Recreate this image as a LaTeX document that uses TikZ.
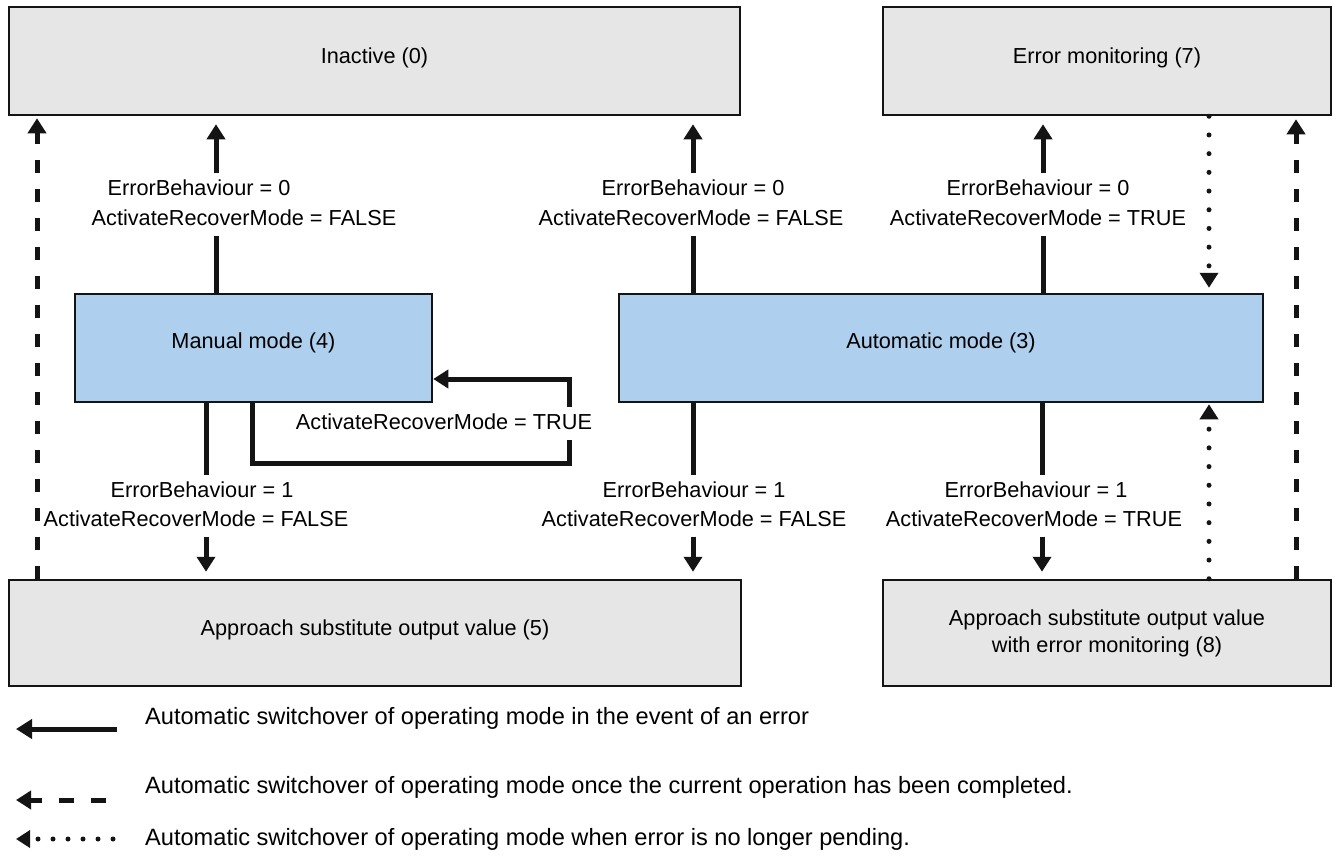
\documentclass[tikz,border=0pt]{standalone}
\usepackage{fontspec}
\setmainfont{Liberation Sans}
\usetikzlibrary{arrows.meta}
\definecolor{boxgray}{HTML}{E6E6E6}
\definecolor{boxblue}{HTML}{AECFED}
\definecolor{ink}{HTML}{141414}
\newcommand{\fsz}{\fontsize{21.7}{27}\selectfont}
\newcommand{\fleg}{\fontsize{23.6}{28}\selectfont}
\tikzset{
  gbox/.style={draw=ink, line width=2.5pt, fill=boxgray, font=\fsz, text height=16pt, text depth=12pt, inner sep=0pt},
  bbox/.style={gbox, fill=boxblue},
  lbl/.style={font=\fsz, inner xsep=2pt, inner ysep=5.5pt, text height=16pt, text depth=5pt, anchor=base},
  err/.style={draw=ink, line width=5pt},
  tipA/.style={-{Triangle[width=18pt,length=15pt]}},
  dsh/.style={draw=ink, line width=5pt, dash pattern=on 13pt off 16pt},
  dot/.style={draw=ink, line width=5pt, line cap=round, dash pattern=on 0pt off 18.7pt},
  legtext/.style={font=\fleg, anchor=base west, inner sep=0pt},
}
\begin{document}
\begin{tikzpicture}[x=1pt,y=-1pt]
\useasboundingbox[fill=white] (0,0) rectangle (1333,855);

% boxes
\node[gbox, minimum width=731pt, minimum height=108pt] (inactive) at (374.5,61) {Inactive (0)};
\node[gbox, minimum width=448pt, minimum height=108pt] (errmon) at (1107,61) {Error monitoring (7)};
\node[bbox, minimum width=357pt, minimum height=108pt, text depth=16pt] (manual) at (253.5,348) {Manual mode (4)};
\node[bbox, minimum width=644pt, minimum height=108pt, text depth=16pt] (auto) at (941,348) {Automatic mode (3)};
\node[gbox, minimum width=732pt, minimum height=106pt] (app5) at (375,633) {Approach substitute output value (5)};
\node[gbox, minimum width=448pt, minimum height=106pt, text height=, text depth=, align=center] (app8) at (1107,633) {Approach substitute output value\\with error monitoring (8)};

% arrow x positions
\coordinate (xA) at (216,0);
\coordinate (xB) at (693,0);
\coordinate (xC) at (1043,0);
\coordinate (xD) at (206,0);
\coordinate (xE) at (693,0);
\coordinate (xF) at (1042,0);
\coordinate (xDash1) at (37,0);
\coordinate (xDash2) at (1296,0);
\coordinate (xDot) at (1209,0);

% labels
\node[lbl] (mt1) at (199,195) {ErrorBehaviour = 0};
\node[lbl] (mt2) at (244,225) {ActivateRecoverMode = FALSE};
\node[lbl] (at1) at (693,195) {ErrorBehaviour = 0};
\node[lbl] (at2) at (691,225) {ActivateRecoverMode = FALSE};
\node[lbl] (et1) at (1038,195) {ErrorBehaviour = 0};
\node[lbl] (et2) at (1038,225) {ActivateRecoverMode = TRUE};
\node[lbl] (mb1) at (202,497) {ErrorBehaviour = 1};
\node[lbl] (mb2) at (196,526) {ActivateRecoverMode = FALSE};
\node[lbl] (ab1) at (694,497) {ErrorBehaviour = 1};
\node[lbl] (ab2) at (694,526) {ActivateRecoverMode = FALSE};
\node[lbl] (eb1) at (1036,497) {ErrorBehaviour = 1};
\node[lbl] (eb2) at (1034,526) {ActivateRecoverMode = TRUE};
\node[lbl] (loop) at (444,429) {ActivateRecoverMode = TRUE};

% solid arrows up
\draw[err] (manual.north -| xA) -- (mt2.south -| xA);
\draw[err,tipA,shorten >=8pt] (mt1.north -| xA) -- (inactive.south -| xA);
\draw[err] (auto.north -| xB) -- (at2.south -| xB);
\draw[err,tipA,shorten >=8pt] (at1.north -| xB) -- (inactive.south -| xB);
\draw[err] (auto.north -| xC) -- (et2.south -| xC);
\draw[err,tipA,shorten >=8pt] (et1.north -| xC) -- (errmon.south -| xC);

% solid arrows down
\draw[err] (manual.south -| xD) -- (mb1.north -| xD);
\draw[err,tipA,shorten >=7pt] (mb2.south -| xD) -- (app5.north -| xD);
\draw[err] (auto.south -| xE) -- (ab1.north -| xE);
\draw[err,tipA,shorten >=7pt] (ab2.south -| xE) -- (app5.north -| xE);
\draw[err] (auto.south -| xF) -- (eb1.north -| xF);
\draw[err,tipA,shorten >=7pt] (eb2.south -| xF) -- (app8.north -| xF);

% self loop on manual mode
\coordinate (lA) at (252,463);
\coordinate (lB) at (569,463);
\coordinate (lC) at (569,379);
\draw[err] (manual.south -| lA) -- (lA) -- (lB) -- (loop.south -| lB);
\draw[err,tipA] (loop.north -| lB) -- (lC) -- (lC -| manual.east);

% dashed arrows
\draw[dsh,tipA,shorten >=2pt] (app5.north -| xDash1) -- (inactive.south -| xDash1);
\draw[dsh,tipA,shorten >=3pt] (app8.north -| xDash2) -- (errmon.south -| xDash2);

% dotted arrows
\draw[dot,tipA,shorten >=5pt] (errmon.south -| xDot) -- (auto.north -| xDot);
\draw[dot,tipA,shorten >=1pt] (app8.north -| xDot) -- (auto.south -| xDot);

% legend
\coordinate (g1a) at (117,729);
\coordinate (g1b) at (16,729);
\coordinate (g2a) at (106,800);
\coordinate (g2b) at (16,800);
\coordinate (g3a) at (113,839);
\coordinate (g3b) at (16,839);
\draw[err,-{Triangle[width=19pt,length=16pt]}] (g1a) -- (g1b);
\draw[dsh,dash pattern=on 15pt off 17pt,-{Triangle[width=18pt,length=15pt]}] (g2a) -- (g2b);
\draw[dot,dash pattern=on 0pt off 15pt,-{Triangle[width=17pt,length=14pt]}] (g3a) -- (g3b);
\node[legtext] (t1) at (145,724) {Automatic switchover of operating mode in the event of an error};
\node[legtext] (t2) at (145,793) {Automatic switchover of operating mode once the current operation has been completed.};
\node[legtext] (t3) at (145,845) {Automatic switchover of operating mode when error is no longer pending.};
\end{tikzpicture}
\end{document}
